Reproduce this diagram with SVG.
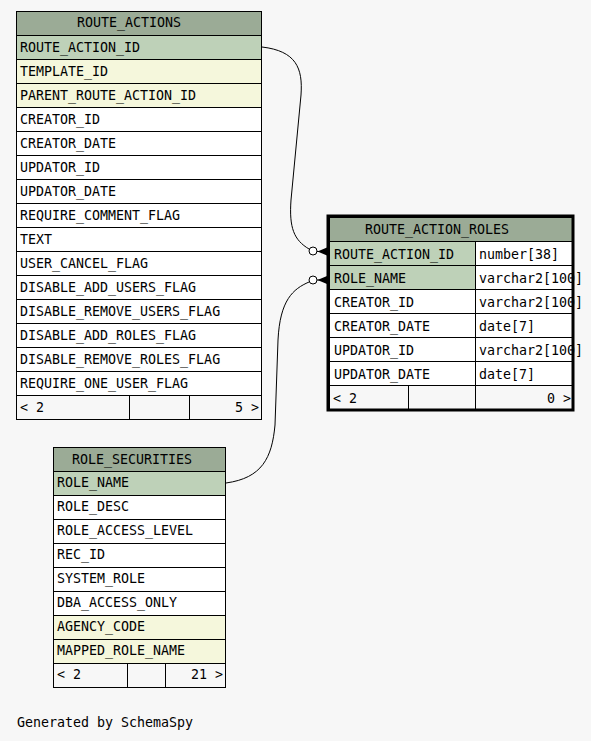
<svg xmlns="http://www.w3.org/2000/svg" width="591" height="741" viewBox="0 0 591 741">
<style>
.t{font-family:"DejaVu Sans Mono","Liberation Mono",monospace;font-size:13.3px;fill:#000}
.e{text-anchor:end}
.c{stroke:#000;stroke-width:1}
.hd{fill:#9bab96}
.pk{fill:#bed1b8}
.ix{fill:#f5f7dc}
.pl{fill:#ffffff}
.ft{fill:#f7f7f7}
.ln{fill:none;stroke:#000;stroke-width:1}
</style>
<rect x="0" y="0" width="591" height="741" fill="#f7f7f7"/>

<g id="connectors">
  <path class="ln" d="M262,47 C296,51 303,68 301,95 L291,200 C289,228 294,240 309,249"/>
  <circle cx="313" cy="251" r="4" fill="#ffffff" stroke="#000"/>
  <line class="ln" x1="317" y1="251.5" x2="327" y2="251.5"/>
  <polygon points="317.5,251.5 327,247.5 327,255.5" fill="#000"/>
  <path class="ln" d="M226,483 C262,478 272,458 275,425 L278,340 C280,300 293,289 309,282"/>
  <circle cx="313" cy="280" r="4" fill="#ffffff" stroke="#000"/>
  <line class="ln" x1="317" y1="280" x2="327" y2="280"/>
  <polygon points="317.5,280 327,276 327,284" fill="#000"/>
</g>

<g id="ROUTE_ACTIONS">
  <rect class="c hd" x="16.5" y="11.5" width="245" height="24"/>
  <rect class="c pk" x="16.5" y="35.5" width="245" height="24"/>
  <rect class="c ix" x="16.5" y="59.5" width="245" height="24"/>
  <rect class="c ix" x="16.5" y="83.5" width="245" height="24"/>
  <rect class="c pl" x="16.5" y="107.5" width="245" height="24"/>
  <rect class="c pl" x="16.5" y="131.5" width="245" height="24"/>
  <rect class="c pl" x="16.5" y="155.5" width="245" height="24"/>
  <rect class="c pl" x="16.5" y="179.5" width="245" height="24"/>
  <rect class="c pl" x="16.5" y="203.5" width="245" height="24"/>
  <rect class="c pl" x="16.5" y="227.5" width="245" height="24"/>
  <rect class="c pl" x="16.5" y="251.5" width="245" height="24"/>
  <rect class="c pl" x="16.5" y="275.5" width="245" height="24"/>
  <rect class="c pl" x="16.5" y="299.5" width="245" height="24"/>
  <rect class="c pl" x="16.5" y="323.5" width="245" height="24"/>
  <rect class="c pl" x="16.5" y="347.5" width="245" height="24"/>
  <rect class="c pl" x="16.5" y="371.5" width="245" height="24"/>
  <rect class="c ft" x="16.5" y="395.5" width="245" height="24"/>
  <line class="ln" x1="129.5" y1="395.5" x2="129.5" y2="419.5"/>
  <line class="ln" x1="189.5" y1="395.5" x2="189.5" y2="419.5"/>
  <text class="t" x="77" y="27">ROUTE_ACTIONS</text>
  <text class="t" x="20" y="52">ROUTE_ACTION_ID</text>
  <text class="t" x="20" y="76">TEMPLATE_ID</text>
  <text class="t" x="20" y="100">PARENT_ROUTE_ACTION_ID</text>
  <text class="t" x="20" y="124">CREATOR_ID</text>
  <text class="t" x="20" y="148">CREATOR_DATE</text>
  <text class="t" x="20" y="172">UPDATOR_ID</text>
  <text class="t" x="20" y="196">UPDATOR_DATE</text>
  <text class="t" x="20" y="220">REQUIRE_COMMENT_FLAG</text>
  <text class="t" x="20" y="244">TEXT</text>
  <text class="t" x="20" y="268">USER_CANCEL_FLAG</text>
  <text class="t" x="20" y="292">DISABLE_ADD_USERS_FLAG</text>
  <text class="t" x="20" y="316">DISABLE_REMOVE_USERS_FLAG</text>
  <text class="t" x="20" y="340">DISABLE_ADD_ROLES_FLAG</text>
  <text class="t" x="20" y="364">DISABLE_REMOVE_ROLES_FLAG</text>
  <text class="t" x="20" y="388">REQUIRE_ONE_USER_FLAG</text>
  <text class="t" x="20" y="412">&lt; 2</text>
  <text class="t e" x="259" y="412">5 &gt;</text>
</g>

<g id="ROUTE_ACTION_ROLES">
  <rect class="c hd" x="329.5" y="217.5" width="243" height="24"/>
  <rect class="c pk" x="329.5" y="241.5" width="146" height="24"/>
  <rect class="c pl" x="475.5" y="241.5" width="97" height="24"/>
  <rect class="c pk" x="329.5" y="265.5" width="146" height="24"/>
  <rect class="c pl" x="475.5" y="265.5" width="97" height="24"/>
  <rect class="c pl" x="329.5" y="289.5" width="146" height="24"/>
  <rect class="c pl" x="475.5" y="289.5" width="97" height="24"/>
  <rect class="c pl" x="329.5" y="313.5" width="146" height="24"/>
  <rect class="c pl" x="475.5" y="313.5" width="97" height="24"/>
  <rect class="c pl" x="329.5" y="337.5" width="146" height="24"/>
  <rect class="c pl" x="475.5" y="337.5" width="97" height="24"/>
  <rect class="c pl" x="329.5" y="361.5" width="146" height="24"/>
  <rect class="c pl" x="475.5" y="361.5" width="97" height="24"/>
  <rect class="c ft" x="329.5" y="385.5" width="243" height="24"/>
  <line class="ln" x1="408.5" y1="385.5" x2="408.5" y2="410"/>
  <line class="ln" x1="475.5" y1="385.5" x2="475.5" y2="410"/>
  <text class="t" x="365" y="234">ROUTE_ACTION_ROLES</text>
  <text class="t" x="334" y="258.5">ROUTE_ACTION_ID</text>
  <text class="t" x="479" y="258.5">number[38]</text>
  <text class="t" x="334" y="282.5">ROLE_NAME</text>
  <text class="t" x="479" y="282.5">varchar2[100]</text>
  <text class="t" x="334" y="306.5">CREATOR_ID</text>
  <text class="t" x="479" y="306.5">varchar2[100]</text>
  <text class="t" x="334" y="330.5">CREATOR_DATE</text>
  <text class="t" x="479" y="330.5">date[7]</text>
  <text class="t" x="334" y="354.5">UPDATOR_ID</text>
  <text class="t" x="479" y="354.5">varchar2[100]</text>
  <text class="t" x="334" y="378.5">UPDATOR_DATE</text>
  <text class="t" x="479" y="378.5">date[7]</text>
  <text class="t" x="333" y="402.5">&lt; 2</text>
  <text class="t e" x="571" y="402.5">0 &gt;</text>
  <rect x="328" y="216" width="245" height="194" fill="none" stroke="#000" stroke-width="3"/>
</g>

<g id="ROLE_SECURITIES">
  <rect class="c hd" x="53.5" y="447.5" width="172" height="24"/>
  <rect class="c pk" x="53.5" y="471.5" width="172" height="24"/>
  <rect class="c pl" x="53.5" y="495.5" width="172" height="24"/>
  <rect class="c pl" x="53.5" y="519.5" width="172" height="24"/>
  <rect class="c pl" x="53.5" y="543.5" width="172" height="24"/>
  <rect class="c pl" x="53.5" y="567.5" width="172" height="24"/>
  <rect class="c pl" x="53.5" y="591.5" width="172" height="24"/>
  <rect class="c ix" x="53.5" y="615.5" width="172" height="24"/>
  <rect class="c ix" x="53.5" y="639.5" width="172" height="24"/>
  <rect class="c ft" x="53.5" y="663.5" width="172" height="24"/>
  <line class="ln" x1="127.5" y1="663.5" x2="127.5" y2="687.5"/>
  <line class="ln" x1="165.5" y1="663.5" x2="165.5" y2="687.5"/>
  <text class="t" x="72" y="463.5">ROLE_SECURITIES</text>
  <text class="t" x="57" y="487">ROLE_NAME</text>
  <text class="t" x="57" y="511">ROLE_DESC</text>
  <text class="t" x="57" y="535">ROLE_ACCESS_LEVEL</text>
  <text class="t" x="57" y="559">REC_ID</text>
  <text class="t" x="57" y="583">SYSTEM_ROLE</text>
  <text class="t" x="57" y="607">DBA_ACCESS_ONLY</text>
  <text class="t" x="57" y="631">AGENCY_CODE</text>
  <text class="t" x="57" y="655">MAPPED_ROLE_NAME</text>
  <text class="t" x="57" y="679">&lt; 2</text>
  <text class="t e" x="223" y="679">21 &gt;</text>
</g>

<text class="t" x="17" y="727">Generated by SchemaSpy</text>
</svg>
